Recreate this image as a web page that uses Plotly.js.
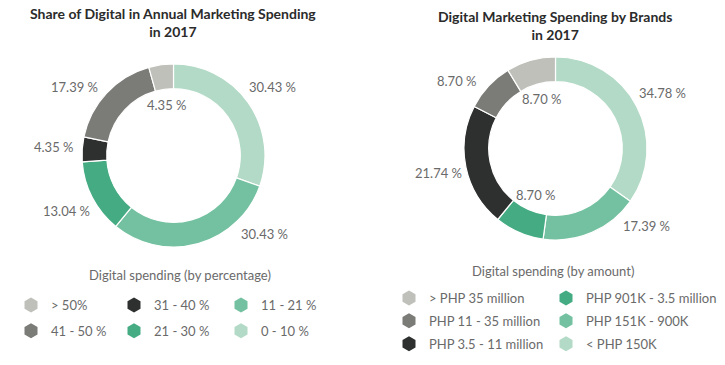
<!DOCTYPE html>
<html>
<head>
<meta charset="utf-8">
<script src="https://cdn.plot.ly/plotly-3.0.1.min.js"></script>
<style>
  html, body { margin: 0; padding: 0; background: #ffffff; }
  #chart { width: 725px; height: 365px; }
</style>
</head>
<body>
<div id="chart"></div>
<script>
// ---------- DATA ----------
const pctCategories = ['0 - 10 %', '11 - 21 %', '21 - 30 %', '31 - 40 %', '41 - 50 %', '> 50%'];
const pctValues = [30.43, 30.43, 13.04, 4.35, 17.39, 4.35];
const pctLabels = ['30.43 %', '30.43 %', '13.04 %', '4.35 %', '17.39 %', '4.35 %'];

const amtCategories = ['< PHP 150K', 'PHP 151K - 900K', 'PHP 901K - 3.5 million', 'PHP 3.5 - 11 million', 'PHP 11 - 35 million', '> PHP 35 million'];
const amtValues = [34.78, 17.39, 8.70, 21.74, 8.70, 8.70];
const amtLabels = ['34.78 %', '17.39 %', '8.70 %', '21.74 %', '8.70 %', '8.70 %'];

const titles = ['Share of Digital in Annual Marketing Spending<br>in 2017', 'Digital Marketing Spending by Brands<br>in 2017'];
const legendTitles = ['Digital spending (by percentage)', 'Digital spending (by amount)'];

// ---------- STYLE / LAYOUT ----------
const W = 725, H = 365;
const colors = ['#b3dac6', '#73c1a0', '#45ab83', '#2e302f', '#7b7c77', '#c0c0bb'];
const labelInsidePct = [false, false, false, false, false, true];
const labelInsideAmt = [false, false, true, false, false, true];
const font = 'Lato, "Open Sans", sans-serif';
const labelColor = '#6a6a6a';

const charts = [
  { cats: pctCategories, vals: pctValues, labels: pctLabels, inside: labelInsidePct,
    cx: 173.5, cy: 155.5, r: 91.5, titleX: 173, titleY: 23,
    legTitleX: 180, legTitleY: 275,
    legCols: [ {x: 11, y: 290}, {x: 114, y: 290}, {x: 221, y: 290} ], perCol: 2, gap: 6 },
  { cats: amtCategories, vals: amtValues, labels: amtLabels, inside: labelInsideAmt,
    cx: 555.5, cy: 148.5, r: 91.5, titleX: 555, titleY: 25,
    legTitleX: 553, legTitleY: 271,
    legCols: [ {x: 389, y: 283}, {x: 546, y: 283} ], perCol: 3, gap: 3 }
];

const data = [];
const annotations = [];
const layout = {
  width: W, height: H,
  margin: {l: 0, r: 0, t: 0, b: 0},
  paper_bgcolor: '#ffffff', plot_bgcolor: '#ffffff',
  showlegend: true,
  font: {family: font, color: labelColor, size: 13},
  xaxis: {visible: false, range: [0, 1], fixedrange: true},
  yaxis: {visible: false, range: [0, 1], fixedrange: true},
  annotations: annotations
};

let legIdx = 0;
charts.forEach((c, ci) => {
  data.push({
    type: 'pie',
    labels: c.cats,
    values: c.vals,
    sort: false,
    direction: 'clockwise',
    rotation: 0,
    hole: 0.73,
    textinfo: 'none',
    hoverinfo: 'skip',
    showlegend: false,
    marker: {colors: colors, line: {color: '#ffffff', width: 1.2}},
    domain: {
      x: [(c.cx - c.r) / W, (c.cx + c.r) / W],
      y: [1 - (c.cy + c.r) / H, 1 - (c.cy - c.r) / H]
    }
  });

  // slice labels computed from the values
  const total = c.vals.reduce((a, b) => a + b, 0);
  let cum = 0;
  c.vals.forEach((v, i) => {
    const th = 2 * Math.PI * (cum + v / 2) / total;
    cum += v;
    let dx, dy;
    if (c.inside[i]) {
      const R = 51;
      dx = R * Math.sin(th); dy = -R * Math.cos(th);
    } else {
      const R = 120, clampTop = 68, clampBottom = 78;
      dx = R * Math.sin(th); dy = -R * Math.cos(th);
      const clamp = dy < 0 ? clampTop : clampBottom;
      if (Math.abs(dy) > clamp) {
        dy = Math.sign(dy) * clamp;
        dx = Math.sign(dx || 1) * Math.sqrt(R * R - dy * dy);
      }
    }
    annotations.push({
      xref: 'paper', yref: 'paper',
      x: (c.cx + dx) / W, y: 1 - (c.cy + dy) / H,
      xanchor: 'center', yanchor: 'middle',
      text: c.labels[i], showarrow: false,
      font: {family: font, size: 13, color: labelColor}
    });
  });

  // chart title
  annotations.push({
    xref: 'paper', yref: 'paper', x: c.titleX / W, y: 1 - c.titleY / H,
    xanchor: 'center', yanchor: 'middle', showarrow: false,
    text: '<b>' + titles[ci] + '</b>',
    font: {family: font, size: 14, color: '#2b2b2b'}
  });
  // legend title
  annotations.push({
    xref: 'paper', yref: 'paper', x: c.legTitleX / W, y: 1 - c.legTitleY / H,
    xanchor: 'center', yanchor: 'middle', showarrow: false,
    text: legendTitles[ci],
    font: {family: font, size: 13, color: labelColor}
  });

  // legend entries: reversed slice order, column-major
  const n = c.cats.length;
  const order = [];
  for (let k = n - 1; k >= 0; k--) order.push(k);
  c.legCols.forEach((col, colI) => {
    legIdx++;
    const legName = legIdx === 1 ? 'legend' : 'legend' + legIdx;
    layout[legName] = {
      x: col.x / W, y: 1 - col.y / H, xanchor: 'left', yanchor: 'top',
      orientation: 'v', traceorder: 'grouped', tracegroupgap: c.gap,
      bgcolor: 'rgba(0,0,0,0)', borderwidth: 0,
      font: {family: font, size: 13, color: labelColor},
      itemclick: false, itemdoubleclick: false
    };
    for (let r = 0; r < c.perCol; r++) {
      const k = order[colI * c.perCol + r];
      if (k === undefined) continue;
      data.push({
        type: 'scatter', mode: 'markers',
        x: [null], y: [null],
        name: c.cats[k],
        legend: legName,
        legendgroup: 'g' + ci + '_' + k,
        showlegend: true,
        hoverinfo: 'skip',
        marker: {symbol: 'hexagon', size: 15, color: colors[k], line: {width: 0}}
      });
    }
  });
});

Plotly.newPlot('chart', data, layout, {displayModeBar: false, staticPlot: true});
</script>
</body>
</html>
